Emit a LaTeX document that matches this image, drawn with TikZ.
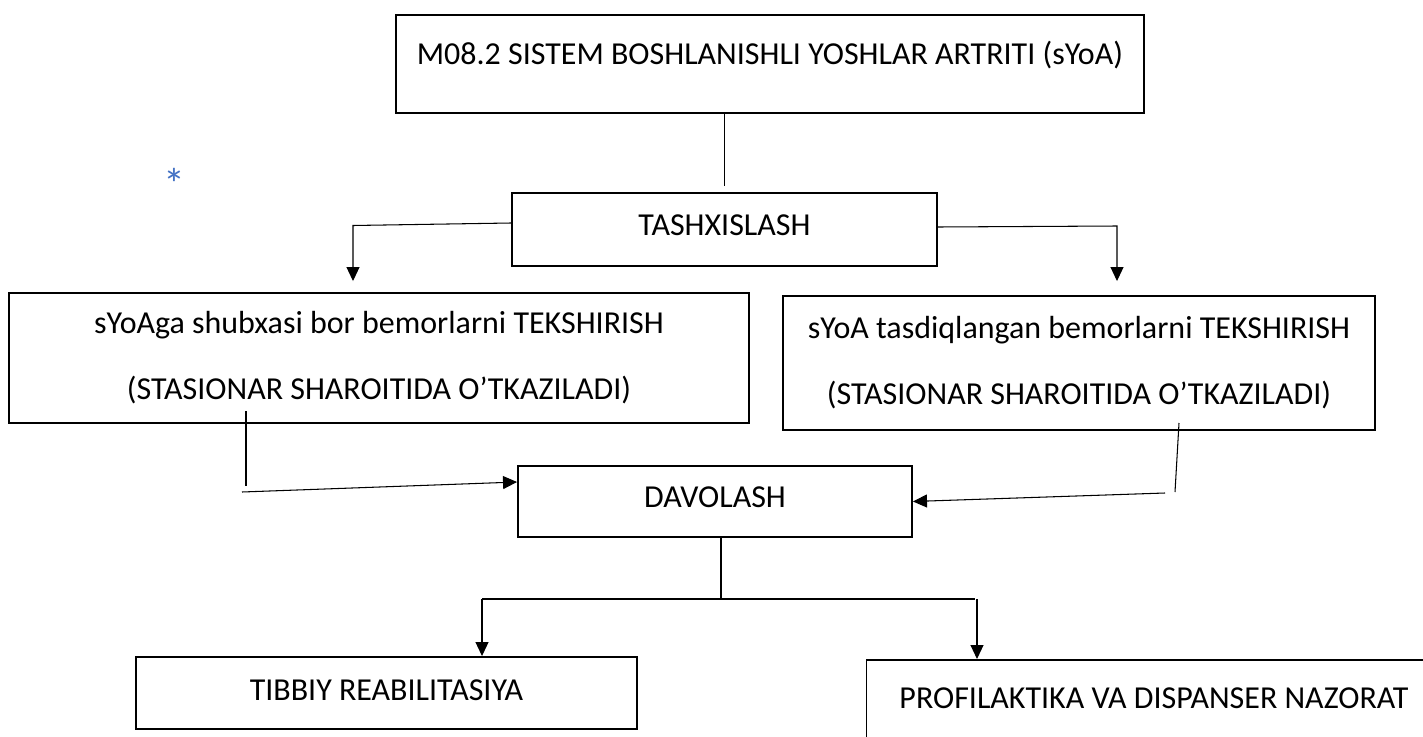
\documentclass[tikz,border=0pt]{standalone}
\usepackage{fontspec}
\setmainfont{Carlito}
\usepackage{tikz}
\usetikzlibrary{arrows.meta}
\definecolor{starblue}{RGB}{68,114,196}

\begin{document}
\begin{tikzpicture}[scale=1.0,
    box/.style={draw, line width=1.1pt, inner sep=0pt, font=\fontsize{18.2}{37.6}\selectfont},
    capline/.style={text height=0.412cm, text depth=#1},
    link/.style={line width=0.6pt},
    arrow/.style={line width=0.6pt, -{Triangle[length=0.28cm, width=0.26cm]}}]%{{{

    \useasboundingbox (0,0) rectangle (28.46,-14.72);

    \node (top) [box, capline=0.4cm, minimum width=14.96cm, minimum height=1.96cm] at (15.4,-1.28) {M08.2 SISTEM BOSHLANISHLI YOSHLAR ARTRITI (sYoA)};
    \node (ast) [text=starblue, font=\fontsize{25}{28}\selectfont] at (3.48,-3.68) {*};
    \node (tash) [box, capline=0.18cm, minimum width=8.5cm, minimum height=1.46cm] at (14.49,-4.59) {TASHXISLASH};
    \draw [link] (tash.north |- top.south) -- ([yshift=0.12cm]tash.north);


    \node (susp) [box, align=center, minimum width=14.8cm, minimum height=2.6cm] at (7.58,-7.16) {sYoAga shubxasi bor bemorlarni TEKSHIRISH\\(STASIONAR SHAROITIDA O’TKAZILADI)};
    \node (conf) [box, align=center, minimum width=11.84cm, minimum height=2.68cm] at (21.58,-7.26) {sYoA tasdiqlangan bemorlarni TEKSHIRISH\\(STASIONAR SHAROITIDA O’TKAZILADI)};
    \coordinate (tl) at (7.06,-4.51);
    \coordinate (tr) at (22.34,-4.52);
    \draw [arrow] ([yshift=0.13cm]tash.west) -- (tl) -- ([yshift=0.22cm]tl |- susp.north);
    \draw [arrow] ([yshift=0.05cm]tash.east) -- (tr) -- ([yshift=0.28cm]tr |- conf.north);


    \node (davo) [box, capline=0.16cm, minimum width=7.88cm, minimum height=1.42cm] at (14.3,-10.03) {DAVOLASH};
    \coordinate (sl1) at (4.92,-8.22);
    \coordinate (sl2) at (4.92,-9.72);
    \coordinate (sl3) at (4.84,-9.84);
    \draw [link] (sl1) -- (sl2);
    \draw [arrow] (sl3) -- ([yshift=0.39cm]davo.west);
    \coordinate (cr1) at (23.58,-8.46);
    \coordinate (cr2) at (23.5,-9.84);
    \coordinate (cr3) at (23.3,-9.86);
    \draw [link] (cr1) -- (cr2);
    \draw [arrow] (cr3) -- (davo.east);


    \node (reab) [box, capline=0.12cm, minimum width=10.02cm, minimum height=1.44cm] at (7.73,-13.86) {TIBBIY REABILITASIYA};
    \node (prof) [box, anchor=north west, align=flush left, inner xsep=0.66cm, text width=11.2cm, text height=0.98cm, text depth=1.2cm] at (17.31,-13.18) {PROFILAKTIKA VA DISPANSER NAZORAT};
    \coordinate (dj) at (14.42,-11.98);
    \coordinate (bl) at (9.64,-11.98);
    \coordinate (br) at (19.5,-11.98);
    \draw [link] ([xshift=0.12cm]davo.south) -- (dj);
    \draw [link] (bl) -- (br);
    \draw [arrow] (bl) -- (bl |- reab.north);
    \draw [arrow] ([xshift=0.04cm]br) -- ([xshift=0.04cm]br |- prof.north);
  \end{tikzpicture}
\end{document}
